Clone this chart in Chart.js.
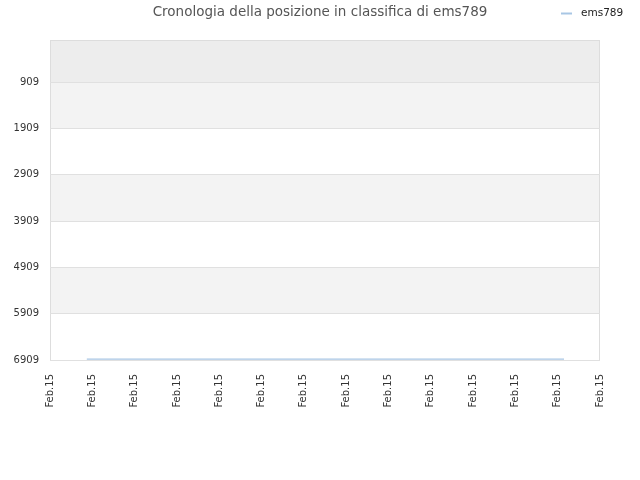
<!DOCTYPE html>
<html>
<head>
<meta charset="utf-8">
<script src="https://cdn.jsdelivr.net/npm/chart.js@4/dist/chart.umd.min.js"></script>
<style>
  html, body { margin: 0; padding: 0; background: #fff; }
</style>
</head>
<body>
<canvas id="rankChart" width="640" height="480"></canvas>
<script>
// data
var seriesName = "ems789";
var chartTitle = "Cronologia della posizione in classifica di ems789";
var pointX = [0.87, 12.15];
var pointRank = [6890, 6890];
var xTickLabels = ["Feb.15", "Feb.15", "Feb.15", "Feb.15", "Feb.15", "Feb.15", "Feb.15",
                   "Feb.15", "Feb.15", "Feb.15", "Feb.15", "Feb.15", "Feb.15", "Feb.15"];
var yTickValues = [909, 1909, 2909, 3909, 4909, 5909, 6909];

var lineColor = '#a8c6e4';

// grey / white stripes behind the plot, plus the frame
const bandsPlugin = {
    id: 'bands',
    beforeDraw(chart) {
        const ctx = chart.ctx, area = chart.chartArea, y = chart.scales.y;
        ctx.save();
        // top strip, above first tick
        ctx.fillStyle = '#ededed';
        ctx.fillRect(area.left, area.top, area.right - area.left, y.getPixelForValue(yTickValues[0]) - area.top);
        for (let i = 0; i < yTickValues.length - 1; i++) {
            if (i % 2 == 0) {
                const y0 = y.getPixelForValue(yTickValues[i]);
                const y1 = y.getPixelForValue(yTickValues[i + 1]);
                ctx.fillStyle = '#f3f3f3';
                ctx.fillRect(area.left, y0, area.right - area.left, y1 - y0);
            }
        }
        ctx.strokeStyle = '#dddddd';
        ctx.lineWidth = 1;
        ctx.strokeRect(area.left + 0.5, area.top + 0.5, area.right - area.left - 1, area.bottom - area.top);
        ctx.restore();
    },
    afterDraw(chart) {
        const ctx = chart.ctx;
        ctx.save();
        // title centred on the whole canvas
        ctx.fillStyle = '#555';
        ctx.font = '13.5px "DejaVu Sans"';
        ctx.textAlign = 'center';
        ctx.textBaseline = 'middle';
        ctx.fillText(chartTitle, 320, 12);
        // legend next to the title, top right
        ctx.strokeStyle = lineColor;
        ctx.lineWidth = 2;
        ctx.beginPath();
        ctx.moveTo(561, 13.5);
        ctx.lineTo(572, 13.5);
        ctx.stroke();
        ctx.fillStyle = '#222';
        ctx.font = '10.5px "DejaVu Sans"';
        ctx.textAlign = 'left';
        ctx.fillText(seriesName, 581, 13);
        ctx.restore();
    }
};

const ctx = document.getElementById('rankChart').getContext('2d');

const rankChart = new Chart(ctx, {
    type: 'line',
    data: {
        datasets: [{
            label: seriesName,
            data: pointX.map((x, i) => ({ x: x, y: pointRank[i] })),
            borderColor: lineColor,
            backgroundColor: lineColor,
            borderWidth: 1.2,
            pointRadius: 0,
            tension: 0
        }]
    },
    options: {
        responsive: false,
        animation: false,
        devicePixelRatio: 1,
        layout: { padding: { left: 0, right: 40, top: 40, bottom: 0 } },
        plugins: {
            legend: { display: false },
            tooltip: { enabled: false },
            title: { display: false }
        },
        scales: {
            x: {
                type: 'linear',
                min: 0,
                max: xTickLabels.length - 1,
                grid: { display: false, drawTicks: false },
                border: { display: false },
                afterFit: (scale) => { scale.height = 120; },
                afterBuildTicks: (scale) => {
                    scale.ticks = xTickLabels.map((l, i) => ({ value: i }));
                },
                ticks: {
                    minRotation: 90,
                    maxRotation: 90,
                    autoSkip: false,
                    padding: 14,
                    color: '#333',
                    font: { family: 'DejaVu Sans', size: 10 },
                    callback: (v, i) => xTickLabels[i]
                }
            },
            y: {
                reverse: true,
                min: 0,
                max: 6909,
                grid: { color: '#e0e0e0', drawTicks: false },
                border: { display: false },
                afterFit: (scale) => { scale.width = 50; },
                afterBuildTicks: (scale) => {
                    scale.ticks = yTickValues.map(v => ({ value: v }));
                },
                ticks: {
                    padding: 11,
                    color: '#333',
                    font: { family: 'DejaVu Sans', size: 10 },
                    callback: (v) => String(v)
                }
            }
        }
    },
    plugins: [bandsPlugin]
});
</script>
</body>
</html>
